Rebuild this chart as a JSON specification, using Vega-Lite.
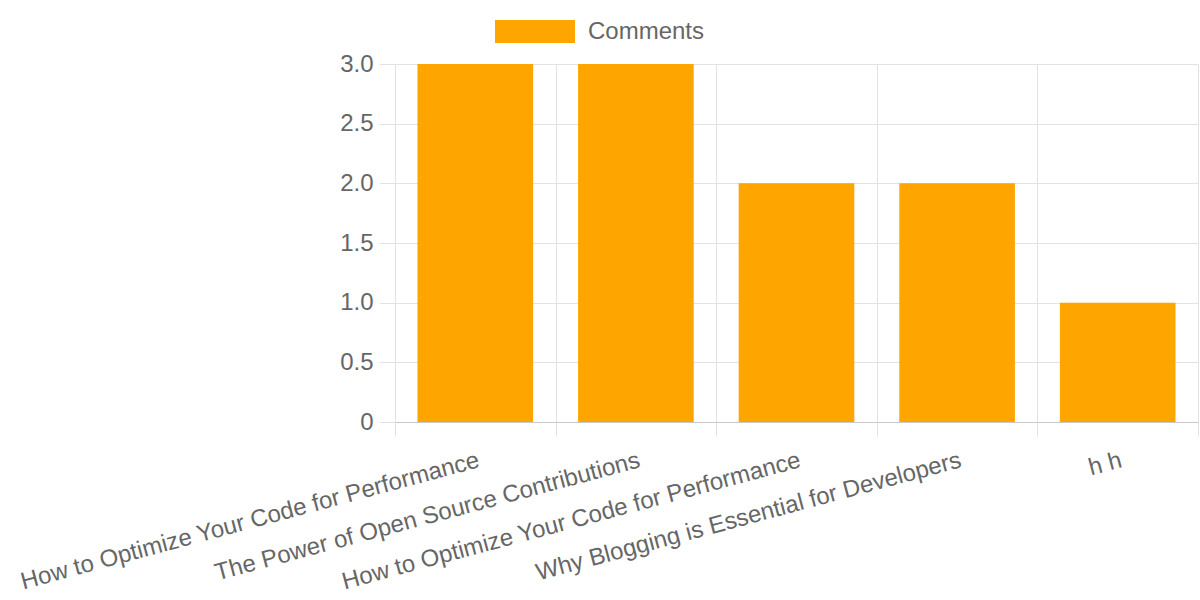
{
  "$schema": "https://vega.github.io/schema/vega-lite/v6.json",
  "width": 803,
  "height": 358,
  "autosize": {"type": "none"},
  "padding": {"left": 395, "top": 64, "right": 2, "bottom": 178},
  "background": "white",
  "config": {
    "font": "Liberation Sans",
    "view": {"stroke": null}
  },
  "data": {
    "values": [
      {"post": "How to Optimize Your Code for Performance", "comments": 3, "series": "Comments"},
      {"post": "The Power of Open Source Contributions", "comments": 3, "series": "Comments"},
      {"post": "How to Optimize Your Code for Performance ", "comments": 2, "series": "Comments"},
      {"post": "Why Blogging is Essential for Developers", "comments": 2, "series": "Comments"},
      {"post": "h h", "comments": 1, "series": "Comments"}
    ]
  },
  "mark": {"type": "bar", "color": "#FFA500", "width": {"band": 0.72}},
  "encoding": {
    "x": {
      "field": "post",
      "type": "nominal",
      "sort": null,
      "title": null,
      "scale": {"paddingInner": 0, "paddingOuter": 0},
      "axis": {
        "tickBand": "extent",
        "grid": true,
        "gridColor": "#e2e2e2",
        "tickColor": "#e2e2e2",
        "tickSize": 14,
        "domainColor": "#c8c8c8",
        "labelAngle": -15,
        "labelAlign": "right",
        "labelBaseline": "top",
        "labelPadding": 12,
        "labelFontSize": 24,
        "labelColor": "#666666",
        "labelLimit": 700,
        "labelOverlap": false,
        "labelBound": false
      }
    },
    "y": {
      "field": "comments",
      "type": "quantitative",
      "title": null,
      "scale": {"domain": [0, 3], "nice": false},
      "axis": {
        "values": [0, 0.5, 1, 1.5, 2, 2.5, 3],
        "labelExpr": "datum.value == 0 ? '0' : format(datum.value, '.1f')",
        "grid": true,
        "gridColor": "#e2e2e2",
        "tickColor": "#e2e2e2",
        "tickSize": 16,
        "domainColor": "#e2e2e2",
        "labelPadding": 6,
        "labelFontSize": 24,
        "labelColor": "#666666",
        "labelOverlap": false,
        "labelFlush": false
      }
    },
    "fill": {
      "field": "series",
      "type": "nominal",
      "scale": {"range": ["#FFA500"]},
      "legend": {
        "title": null,
        "orient": "none",
        "legendX": 100,
        "legendY": -72.5,
        "symbolType": "M-1,-0.29L1,-0.29L1,0.29L-1,0.29Z",
        "symbolSize": 6400,
        "symbolStrokeWidth": 0,
        "symbolOpacity": 1,
        "labelFontSize": 24,
        "labelColor": "#666666",
        "labelOffset": 13
      }
    }
  }
}
